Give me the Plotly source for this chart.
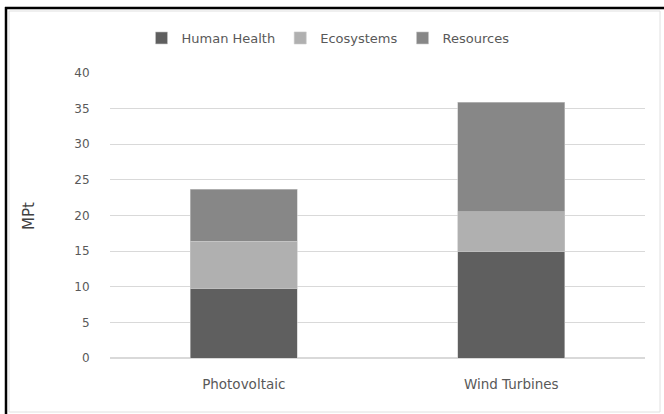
import plotly.graph_objects as go

categories = ["Photovoltaic", "Wind Turbines"]
human_health = [9.7, 14.9]
ecosystems = [6.7, 5.6]
resources = [7.3, 15.4]

series_names = ["Human Health", "Ecosystems", "Resources"]
colors = ["#5f5f5f", "#b0b0b0", "#878787"]

W, H = 664, 414
L, R, T, B = 110, 19, 73, 56
pw, ph = W - L - R, H - T - B

def px_x(px):
    return (px - L) / pw

def px_y(py):
    return (H - B - py) / ph

fig = go.Figure()
for name, vals, col in zip(series_names, [human_health, ecosystems, resources], colors):
    fig.add_trace(go.Bar(x=categories, y=vals, name=name,
                         marker=dict(color=col, line=dict(color="#c8c8c8", width=0.6))))

font_fam = "DejaVu Sans, sans-serif"
txt = "#595959"

fig.update_layout(
    width=W, height=H,
    margin=dict(l=L, r=R, t=T, b=B, autoexpand=False),
    paper_bgcolor="white", plot_bgcolor="white",
    barmode="stack", bargap=0.6,
    font=dict(family=font_fam, size=12, color=txt),
    showlegend=True,
    legend=dict(orientation="h", x=px_x(328), xanchor="center", y=px_y(38), yanchor="middle",
                traceorder="normal", itemwidth=30, font=dict(size=13, color=txt),
                bgcolor="rgba(0,0,0,0)"),
    xaxis=dict(showgrid=False, showline=False, zeroline=False,
               ticks="outside", ticklen=14, tickcolor="rgba(0,0,0,0)",
               tickfont=dict(size=13.5, color=txt)),
    yaxis=dict(range=[0, 40], dtick=5, showgrid=True, gridcolor="#d9d9d9", gridwidth=1,
               zeroline=True, zerolinecolor="#d9d9d9", showline=False,
               ticks="outside", ticklen=17, tickcolor="rgba(0,0,0,0)",
               tickfont=dict(size=12, color=txt)),
    annotations=[dict(text="MPt", xref="paper", yref="paper", x=px_x(29), y=px_y(216),
                      showarrow=False, textangle=-90, font=dict(size=15, color="#404040"),
                      xanchor="center", yanchor="middle")],
    shapes=[
        dict(type="rect", xref="paper", yref="paper", x0=px_x(9), x1=px_x(660),
             y0=px_y(11), y1=px_y(412), line=dict(color="#e0e0e0", width=1)),
        dict(type="line", xref="paper", yref="paper", x0=px_x(6), x1=px_x(6),
             y0=px_y(7), y1=px_y(414), line=dict(color="black", width=2.5)),
        dict(type="line", xref="paper", yref="paper", x0=px_x(5), x1=px_x(664),
             y0=px_y(8), y1=px_y(8), line=dict(color="black", width=2.5)),
    ],
)

fig.write_html("out.html", config={"displayModeBar": False},
               post_script="document.body.style.margin='0';document.body.style.overflow='hidden';")
